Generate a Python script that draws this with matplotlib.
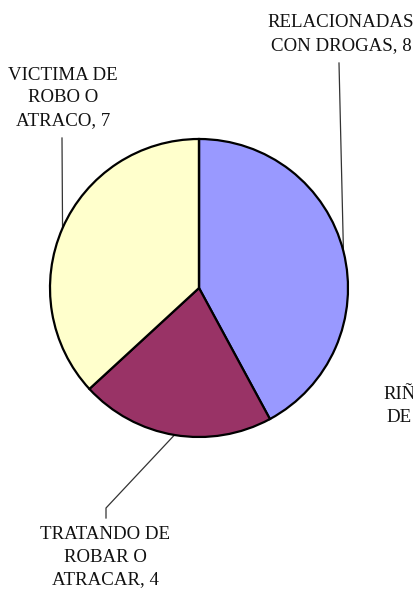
import numpy as np
import matplotlib
matplotlib.use("Agg")
import matplotlib.pyplot as plt

# data
categories = ["RELACIONADAS\nCON DROGAS", "TRATANDO DE\nROBAR O\nATRACAR", "VICTIMA DE\nROBO O\nATRACO", "RIÑ\nDE"]
values = [8, 4, 7, 0]
colors = ["#9999FF", "#993366", "#FFFFCC", "#CCFFFF"]

W, H = 414, 590
cx, cy, r = 199, 288, 149   # pie centre / radius in pixels

fig = plt.figure(figsize=(W / 100, H / 100), dpi=100)
ax = fig.add_axes([(cx - r) / W, (H - cy - r) / H, 2 * r / W, 2 * r / H])

wedges, _ = ax.pie(values, colors=colors, startangle=90, counterclock=False, radius=1,
                   wedgeprops=dict(edgecolor="black", linewidth=1.6))
ax.set_xlim(-1, 1)
ax.set_ylim(-1, 1)
ax.set_aspect("equal")
ax.axis("off")


def px(x, y):
    # pixel position -> data coords
    return (x - cx) / r, (cy - y) / r


def edge_point(w):
    ang = np.deg2rad((w.theta1 + w.theta2) / 2)
    return np.cos(ang), np.sin(ang)


font = dict(family=["Liberation Serif", "DejaVu Serif"], fontsize=13.6, color="#111111",
            va="center", linespacing=1.42)

# label positions (pixels) and leader routes
label_pos = [(341, 34), (105, 557), (63, 98), (383, 406)]
leaders = [[(339, 63)], [(106, 508), (106, 518)], [(62, 138)], None]

for w, cat, v, pos, lead in zip(wedges, categories, values, label_pos, leaders):
    lx, ly = px(*pos)
    if lead:
        ax.text(lx, ly, f"{cat}, {v}", ha="center", clip_on=False, **font)
        ex, ey = edge_point(w)
        pts = [(ex, ey)] + [px(*p) for p in lead]
        xs, ys = zip(*pts)
        ax.plot(xs, ys, color="#333333", lw=0.9, clip_on=False, zorder=0)
    else:
        # this label is cut off at the right edge in the original
        ax.text(lx, ly, cat, ha="left", multialignment="center", clip_on=False, **font)

fig.savefig("out.png", dpi=100)
